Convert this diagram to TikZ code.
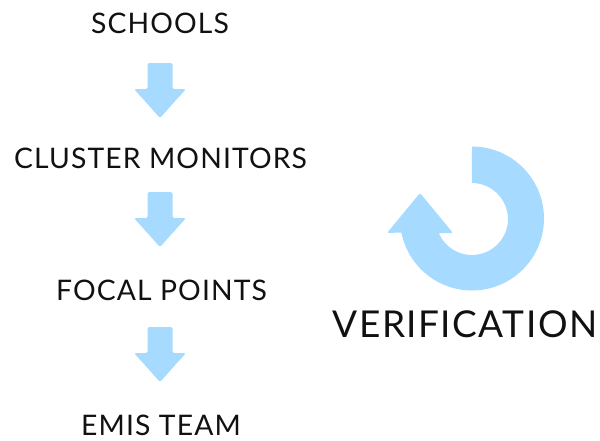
\documentclass[tikz,border=0pt]{standalone}
\usepackage{fontspec}
\setmainfont{Lato}
\newfontfamily\labelfont[LetterSpace=4]{Lato}
\definecolor{arrowblue}{HTML}{A6DBFF}
\definecolor{txt}{HTML}{111111}
\begin{document}
\begin{tikzpicture}[x=1pt,y=-1pt,
  steplabel/.style={anchor=base,inner sep=0pt,text depth=0pt,text=txt,font=\labelfont\fontsize{28.3}{32}\selectfont},
  biglabel/.style={anchor=base,inner sep=0pt,text depth=0pt,text=txt,font=\labelfont\fontsize{37}{42}\selectfont},
  blockfill/.style={fill=arrowblue,draw=none},
  downarr/.pic={
    \fill[blockfill,rounded corners=1.5]
      (-12.5,0) -- (12.5,0) -- (12.5,26) -- (26,26) -- (0,55) -- (-26,26) -- (-12.5,26) -- cycle;
  }]
\path[use as bounding box] (0,0) rectangle (600,440);

\node[steplabel] (schools) at (160,33) {SCHOOLS};
\node[steplabel] (cluster) at (160.5,168) {CLUSTER MONITORS};
\node[steplabel] (focal) at (161.5,300) {FOCAL POINTS};
\node[steplabel] (emis) at (161,435) {EMIS TEAM};
\node[biglabel] (verif) at (465,337) {VERIFICATION};

\pic at (160,63) {downarr};
\pic at (160,192) {downarr};
\pic at (160,327) {downarr};

\fill[blockfill]
  (472,146.5) arc[start angle=-90,end angle=168.8,radius=72]
  [rounded corners=2] -- (387,233) -- (420,193) -- (453,233) [sharp corners] -- (438.8,233)
  arc[start angle=157.1,end angle=-90,radius=36] -- cycle;
\end{tikzpicture}
\end{document}
